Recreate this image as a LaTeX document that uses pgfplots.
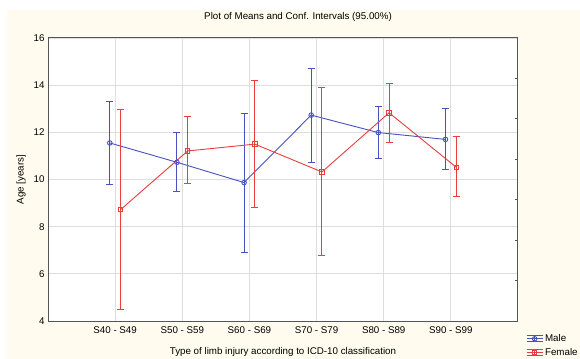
\documentclass[border=0pt]{standalone}
\usepackage{pgfplots}
\usepackage{pgfplotstable}
\pgfplotsset{compat=1.18}
\usepackage{fontspec}
\setmainfont{Liberation Sans}
\definecolor{cream}{RGB}{255,251,238}
\definecolor{mblue}{RGB}{72,82,190}
\definecolor{fred}{RGB}{232,62,62}
\definecolor{gridc}{RGB}{222,222,222}
\definecolor{framec}{RGB}{85,85,85}
\newcommand{\fs}{\fontsize{9.8}{11.5}\selectfont}

\pgfplotstableread{
x    y     ep    em
0.92 11.55 1.77 1.77
1.92 10.73 1.27 1.25
2.92 9.87  2.94 2.97
3.92 12.73 1.98 2.00
4.92 11.99 1.11 1.08
5.92 11.70 1.29 1.26
}\male
\pgfplotstableread{
x    y     ep    em
1.08 8.72  4.23 4.23
2.08 11.21 1.45 1.40
3.08 11.50 2.71 2.70
4.08 10.32 3.57 3.55
5.08 12.83 1.23 1.24
6.08 10.52 1.30 1.26
}\female

\begin{document}
\begin{tikzpicture}
\useasboundingbox (0,0) rectangle (580bp,359bp);
\clip (0,0) rectangle (580bp,359bp);
\fill[white] (0,0) rectangle (580bp,359bp);
\fill[cream] (7bp,0) rectangle (580bp,349bp);
\begin{axis}[
  at={(48bp,38bp)}, anchor=south west,
  width=470bp, height=283bp, scale only axis,
  axis background/.style={fill=white},
  xmin=0, xmax=7, ymin=4, ymax=16,
  xtick={1,...,6},
  xticklabels={S40 - S49,S50 - S59,S60 - S69,S70 - S79,S80 - S89,S90 - S99},
  ytick={4,6,...,16},
  grid=major,
  major grid style={gridc, line width=0.9bp},
  axis line style={framec, line width=1bp},
  major tick length=0pt,
  tick style={draw=none},
  tick label style={font=\fs, black},
  /pgf/number format/assume math mode=true,
  xticklabel style={yshift=-2bp},
  title={Plot of Means and Conf. Intervals (95.00\%)},
  title style={font=\fs, at={(axis description cs:0.532,1.053)}, anchor=center},
  xlabel={Type of limb injury according to ICD-10 classification},
  xlabel style={font=\fs, at={(axis description cs:0.5,-0.1095)}, anchor=center},
  ylabel={Age [years]},
  ylabel style={font=\fs, at={(axis description cs:-0.057,0.5)}, anchor=center},
  legend style={draw=none, fill=none, font=\fs, at={(1.017,-0.04)}, anchor=north west,
    inner sep=0pt, row sep=1bp, cells={anchor=west}},
  legend image code/.code={
    \draw[#1, mark=none] (0bp,0bp) -- (16bp,0bp);
    \draw[#1, mark=none] (0bp,3bp) -- (16bp,3bp) (0bp,-3bp) -- (16bp,-3bp) (8bp,-3bp) -- (8bp,3bp);
    \draw[#1] plot coordinates {(8bp,0bp)};
  },
]
\addplot[mblue, line width=0.9bp, mark=o, mark size=2.3bp,
  error bars/.cd, y dir=both, y explicit,
  error bar style={line width=0.9bp},
  error mark options={rotate=90, mark size=3.5bp, line width=1bp}]
  table[x=x, y=y, y error plus=ep, y error minus=em]{\male};
\addlegendentry{Male}
\addplot[fred, line width=0.9bp, mark=square, mark size=2.2bp,
  error bars/.cd, y dir=both, y explicit,
  error bar style={line width=0.9bp},
  error mark options={rotate=90, mark size=3.5bp, line width=1bp}]
  table[x=x, y=y, y error plus=ep, y error minus=em]{\female};
\addlegendentry{Female}
\end{axis}
\begin{axis}[
  at={(48bp,38bp)}, anchor=south west,
  width=470bp, height=283bp, scale only axis,
  xmin=0, xmax=7, ymin=0, ymax=7,
  hide x axis,
  axis y line*=right,
  axis line style={draw=none},
  ytick={1,...,6}, yticklabels={},
  major tick length=3bp,
  tick align=inside,
  tick style={framec, line width=1bp},
]
\end{axis}
\end{tikzpicture}
\end{document}
